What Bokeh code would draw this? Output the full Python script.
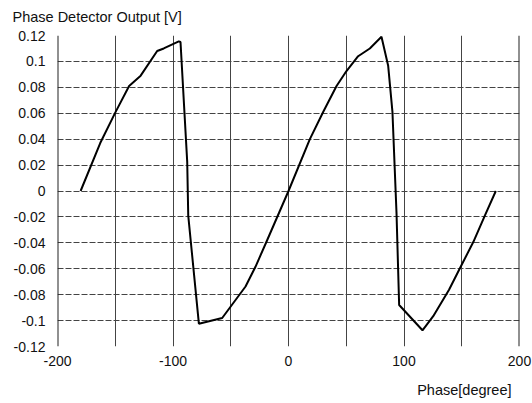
from bokeh.plotting import figure
from bokeh.models import FixedTicker, Span, Title, Range1d, CustomJSTickFormatter
from bokeh.embed import file_html
from bokeh.resources import INLINE

# Data
phase = [-180, -163, -150, -138, -128, -113.7, -108, -95, -93.5, -87.7, -86.8,
         -77.6, -57.4, -37.2, -28.6, -18.5, 0, 18.5, 30, 41.6, 50.2, 60.3, 70.4,
         80.5, 86.3, 90, 93.5, 95.8, 116, 125.3, 139, 148.3, 160, 170, 179.5]
output = [0.0, 0.037, 0.0605, 0.081, 0.089, 0.108, 0.110, 0.1155, 0.115, 0.0227, -0.019,
          -0.1024, -0.098, -0.0737, -0.0585, -0.038, 0.0, 0.040, 0.061, 0.081, 0.0926, 0.104, 0.110,
          0.119, 0.0966, 0.061, -0.0165, -0.088, -0.1075, -0.0966, -0.0762, -0.0598, -0.0394, -0.019, 0.0]

x_label_ticks = [-200, -100, 0, 100, 200]
x_grid_ticks = [-200, -150, -100, -50, 0, 50, 100, 150, 200]
y_ticks = [-0.12, -0.1, -0.08, -0.06, -0.04, -0.02, 0, 0.02, 0.04, 0.06, 0.08, 0.1, 0.12]

y_title = "Phase Detector Output [V]"
x_title = "Phase[degree]"

FONT = "Liberation Sans"

p = figure(width=532, height=403, x_range=Range1d(-200, 200), y_range=Range1d(-0.12, 0.12),
           output_backend="svg", toolbar_location=None,
           min_border_left=57, min_border_right=13, min_border_top=35, min_border_bottom=57)
p.outline_line_color = None
p.background_fill_color = "white"

p.title.text = y_title
p.title.align = "left"
p.title.vertical_align = "top"
p.title.offset = -45
p.title.standoff = 0
p.title.padding = dict(top=0, bottom=9, left=0, right=0)
p.title.text_font = FONT
p.title.text_font_size = "14.5px"
p.title.text_font_style = "normal"
p.title.text_color = "#111111"

p.xaxis.ticker = FixedTicker(ticks=x_label_ticks)
p.xaxis.formatter = CustomJSTickFormatter(code="return tick.toString();")
p.yaxis.ticker = FixedTicker(ticks=y_ticks)
p.yaxis.formatter = CustomJSTickFormatter(code="return Number(tick.toFixed(2)).toString();")
for ax in (p.xaxis, p.yaxis):
    ax.axis_line_color = None
    ax.major_tick_line_color = None
    ax.minor_tick_line_color = None
    ax.major_tick_out = 0
    ax.major_tick_in = 0
    ax.minor_tick_out = 0
    ax.minor_tick_in = 0
    ax.major_label_text_font = FONT
    ax.major_label_text_font_size = "14px"
    ax.major_label_text_color = "#111111"
p.xaxis.major_label_standoff = 9
p.yaxis.major_label_standoff = 12

xt = Title(text=x_title, align="right", offset=8, standoff=0, vertical_align="bottom",
           padding=dict(top=11, bottom=0, left=0, right=0),
           text_font=FONT, text_font_size="14.5px", text_font_style="normal",
           text_color="#111111")
p.add_layout(xt, "below")

p.xgrid.ticker = FixedTicker(ticks=x_grid_ticks)
p.xgrid.grid_line_color = "#444444"
p.xgrid.grid_line_width = 1
p.ygrid.grid_line_color = "#444444"
p.ygrid.grid_line_width = 1
p.ygrid.grid_line_dash = "6 2"

p.add_layout(Span(location=-200, dimension="height", line_color="#222222", line_width=2))
p.add_layout(Span(location=200, dimension="height", line_color="#222222", line_width=2))

p.line(phase, output, line_color="black", line_width=2)

open("out.html", "w").write(file_html(p, INLINE))
